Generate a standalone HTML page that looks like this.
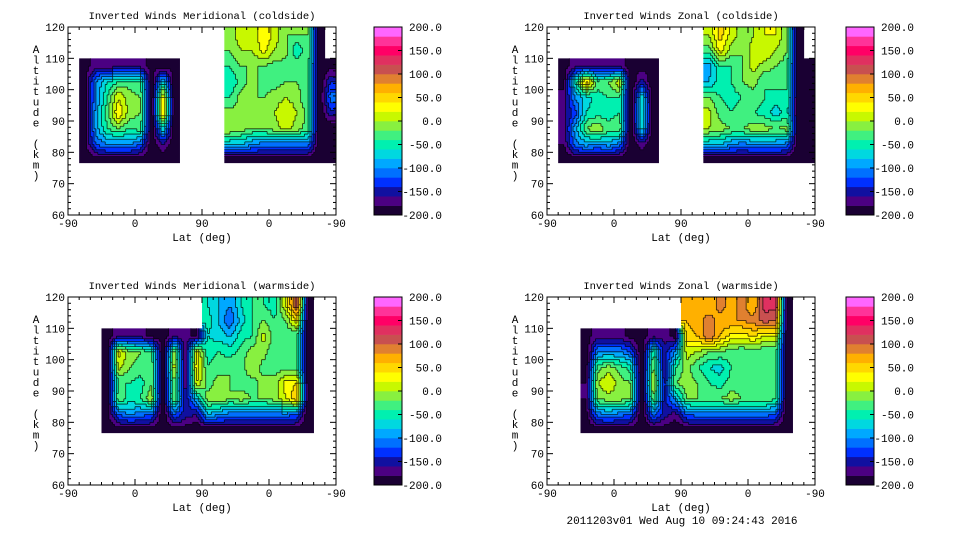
<!DOCTYPE html>
<html><head><meta charset="utf-8"><style>
html,body{margin:0;padding:0;background:#fff;}
svg{display:block;font-family:"Liberation Mono","DejaVu Sans Mono",monospace;}
</style></head><body>
<svg id="chart" width="960" height="540" viewBox="0 0 960 540" xmlns="http://www.w3.org/2000/svg">
<rect width="960" height="540" fill="#fff"/>
</svg>
<script>
// colour bands from -200 to 200, 20 units each
const levelColors = ["#1a0033","#4b0082","#1010a0","#0030ff","#0070ff","#00a8ff","#00d8e0","#00f0b0","#40f080","#88f040","#c8f800","#ffff00","#ffd800","#ffb000","#e08030","#c85050","#e03060","#ff0066","#ff3399","#ff66ff"];
const cbarLabels = ["200.0","150.0","100.0","50.0","0.0","-50.0","-100.0","-150.0","-200.0"];
const cbarValues = [200,150,100,50,0,-50,-100,-150,-200];
const xTickLabels = ["-90","0","90","0","-90"];
const xTickUnits = [0,90,180,270,360];
const yTickValues = [60,70,80,90,100,110,120];
const rowAltTops = [120,115,110,105,100,95,90,85,80]; // each row spans 5 km down
const colWidthUnits = 15;
const n = null;
// grids: rows top->bottom, 24 columns of 15 axis units (0..360)
const gridMeridCold = [
[n,n,n,n,n,n,n,n,n,n,n,n,n,n,-20,20,0,40,10,-20,-20,-20,-200,n],
[n,n,n,n,n,n,n,n,n,n,n,n,n,n,-20,0,0,30,0,-10,-60,-20,-200,n],
[n,-190,-170,-170,-170,-170,-170,-190,-190,-190,n,n,n,n,-40,-20,-20,-20,-30,-30,-20,-30,-200,-190],
[n,-190,-100,-60,-40,-30,-40,-200,-60,-200,n,n,n,n,-60,-30,-10,-30,-30,-20,-20,-30,-200,-140],
[n,-190,-100,-40,20,-10,-20,-200,40,-200,n,n,n,n,-40,-10,-20,-20,-10,0,-10,-40,-200,-110],
[n,-190,-90,-30,40,-10,-20,-200,60,-200,n,n,n,n,-10,-20,-20,-20,0,20,0,-30,-200,-150],
[n,-190,-90,-40,-20,-40,-30,-200,-60,-200,n,n,n,n,0,-10,-20,-20,-10,10,-10,-30,-200,-200],
[n,-190,-120,-100,-100,-100,-120,-200,-160,-200,n,n,n,n,-80,-80,-100,-110,-110,-110,-110,-110,-200,-200],
[n,-200,-190,-190,-190,-190,-190,-200,-200,-200,n,n,n,n,-190,-190,-190,-190,-190,-190,-190,-190,-200,-200]];
const gridZonalCold = [
[n,n,n,n,n,n,n,n,n,n,n,n,n,n,0,50,10,-10,0,20,20,-20,-200,n],
[n,n,n,n,n,n,n,n,n,n,n,n,n,n,-30,30,-10,-20,10,20,0,-20,-200,n],
[n,-190,-170,-170,-170,-170,-170,-190,-190,-190,n,n,n,n,-90,-40,-40,-20,10,-10,-20,-30,-200,-190],
[n,-190,-60,60,-30,-20,20,-200,-150,-200,n,n,n,n,-80,-50,-40,-20,-10,-40,-30,-40,-200,-200],
[n,-170,-100,-70,-50,-40,-40,-200,-60,-200,n,n,n,n,-20,-40,-50,-40,-30,-40,-50,-40,-200,-200],
[n,-170,-130,-60,-50,-50,-40,-200,-50,-200,n,n,n,n,10,-30,-40,-30,-40,-50,-70,-50,-200,-200],
[n,-170,-90,-20,0,-30,-20,-200,-60,-200,n,n,n,n,0,-10,-20,-20,-10,-10,-20,-10,-200,-200],
[n,-180,-110,-90,-100,-90,-110,-200,-170,-200,n,n,n,n,-80,-80,-100,-110,-100,-100,-100,-110,-200,-200],
[n,-200,-190,-190,-190,-190,-190,-200,-200,-200,n,n,n,n,-190,-190,-190,-190,-190,-190,-190,-190,-200,-200]];
const gridMeridWarm = [
[n,n,n,n,n,n,n,n,n,n,n,n,-60,-80,-100,-60,-40,-40,-50,20,120,-200,n,n],
[n,n,n,n,n,n,n,n,n,n,n,n,-50,-80,-120,-70,-40,-20,-40,-20,40,-200,n,n],
[n,n,n,-190,-170,-170,-170,-190,-190,-170,-170,-190,-60,-70,-80,-50,-40,10,-30,-40,-40,-200,n,n],
[n,n,n,-200,30,-10,-20,-40,-200,0,-190,30,-50,-40,-50,-30,-10,-10,-40,-30,-40,-200,n,n],
[n,n,n,-200,10,-20,-30,-20,-200,20,-190,40,-40,-30,-20,-30,0,-30,-30,-30,-40,-200,n,n],
[n,n,n,-200,-40,-40,-50,-20,-200,-20,-180,20,-30,-10,-20,-30,-30,-10,-10,30,40,-200,n,n],
[n,n,n,-200,-20,-50,-40,0,-200,-10,-160,-80,-10,0,-20,-10,-20,-20,-10,20,60,-200,n,n],
[n,n,n,-190,-120,-100,-110,-120,-200,-120,-150,-160,-80,-100,-110,-110,-110,-110,-110,-110,-120,-200,n,n],
[n,n,n,-200,-190,-190,-190,-190,-200,-190,-190,-200,-190,-190,-190,-190,-190,-190,-190,-190,-190,-200,n,n]];
const gridZonalWarm = [
[n,n,n,n,n,n,n,n,n,n,n,n,60,80,60,90,70,90,60,130,130,-200,n,n],
[n,n,n,n,n,n,n,n,n,n,n,n,60,70,90,70,80,80,90,110,100,-200,n,n],
[n,n,n,-190,-170,-170,-170,-190,-190,-170,-170,-190,50,60,100,60,30,30,40,20,20,-200,n,n],
[n,n,n,-200,-100,-100,-100,-120,-200,-40,-150,-100,10,0,-20,-20,-30,-40,-30,-40,-40,-200,n,n],
[n,n,n,-190,-30,-10,-30,-50,-200,-10,-160,-40,-10,-40,-60,-70,-40,-40,-40,-30,-40,-200,n,n],
[n,n,n,-180,0,20,-10,-20,-200,10,-150,-20,-10,-20,-40,-50,-30,-30,-30,-20,-30,-200,n,n],
[n,n,n,-180,-20,-10,-10,-20,-200,-20,-150,-90,-20,-20,-20,-20,-10,-20,-20,-20,-40,-200,n,n],
[n,n,n,-190,-110,-100,-110,-120,-200,-110,-150,-170,-120,-110,-110,-110,-110,-110,-110,-110,-120,-200,n,n],
[n,n,n,-200,-190,-190,-190,-190,-200,-190,-190,-200,-190,-190,-190,-190,-190,-190,-190,-190,-190,-200,n,n]];

const panels = [
 {name:"meridional-coldside",title:"Inverted Winds Meridional (coldside)",ox:68,oy:27,cbx:374,grid:gridMeridCold},
 {name:"zonal-coldside",title:"Inverted Winds Zonal (coldside)",ox:547,oy:27,cbx:846,grid:gridZonalCold},
 {name:"meridional-warmside",title:"Inverted Winds Meridional (warmside)",ox:68,oy:297,cbx:374,grid:gridMeridWarm},
 {name:"zonal-warmside",title:"Inverted Winds Zonal (warmside)",ox:547,oy:297,cbx:846,grid:gridZonalWarm}
];
const W=268,H=188,CBW=28,SUB=6;
const NS="http://www.w3.org/2000/svg";
const svg=document.getElementById('chart');
function mk(tag,attrs,parent,text){const e=document.createElementNS(NS,tag);for(const k in attrs)e.setAttribute(k,attrs[k]);if(text!==undefined)e.textContent=text;parent.appendChild(e);return e;}
function bandOf(v){let i=Math.floor((v+200)/20);if(i<0)i=0;if(i>19)i=19;return i;}
function sample(grid,r,c){
 const r0=Math.floor(r),c0=Math.floor(c),fr=r-r0,fc=c-c0;
 let s=0,w=0;
 [[r0,c0,(1-fr)*(1-fc)],[r0,c0+1,(1-fr)*fc],[r0+1,c0,fr*(1-fc)],[r0+1,c0+1,fr*fc]].forEach(([a,b,wt])=>{
  if(a<0||b<0||a>=grid.length||b>=grid[0].length)return;
  const v=grid[a][b]; if(v===null)return; s+=v*wt; w+=wt;
 });
 return w>0?s/w:null;
}

panels.forEach(p=>{
 const g=mk('g',{},svg);
 
 
 const xs=u=>p.ox+u*W/360;
 const ys=a=>p.oy+H-(a-60)*H/60;
 const nR=p.grid.length*SUB, nC=p.grid[0].length*SUB;
 // fine band grid
 const band=[];
 for(let R=0;R<nR;R++){band.push([]);for(let C=0;C<nC;C++){
  const ri=Math.floor(R/SUB),ci=Math.floor(C/SUB);
  const v=p.grid[ri][ci];
  if(v===null){band[R].push(null);continue;}
  const val=sample(p.grid,ri-0.5+((R%SUB)+0.5)/SUB,ci-0.5+((C%SUB)+0.5)/SUB);
  band[R].push(bandOf(val===null?v:val));
 }}
 const rowY=R=>{const ri=Math.floor(R/SUB),top=rowAltTops[ri],bot=(ri===p.grid.length-1)?76:top-5;return ys(top-(top-bot)*(R%SUB)/SUB);};
 const colX=C=>xs(C*colWidthUnits/SUB);
 const paths=levelColors.map(()=>'');
 let lines='';
 for(let R=0;R<nR;R++)for(let C=0;C<nC;C++){
  const b=band[R][C]; if(b===null)continue;
  const x0=colX(C),x1=colX(C+1),y0=rowY(R),y1=rowY(R+1);
  paths[b]+=`M${x0.toFixed(2)} ${y0.toFixed(2)}H${(x1+0.3).toFixed(2)}V${(y1+0.3).toFixed(2)}H${x0.toFixed(2)}Z`;
  if(C+1<nC&&band[R][C+1]!==null&&band[R][C+1]!==b)lines+=`M${x1.toFixed(2)} ${y0.toFixed(2)}V${y1.toFixed(2)}`;
  if(R+1<nR&&band[R+1][C]!==null&&band[R+1][C]!==b)lines+=`M${x0.toFixed(2)} ${y1.toFixed(2)}H${x1.toFixed(2)}`;
 }
 const field=mk('g',{},g);
 
 
 paths.forEach((d,i)=>{ if(!d)return;
  const e=mk('path',{d:d,fill:levelColors[i]},field);
  
  
 });
 const cl=mk('path',{d:lines,fill:'none',stroke:'#000','stroke-width':0.8,'stroke-opacity':0.8},field);
 
 

 const fr=mk('rect',{x:p.ox,y:p.oy,width:W,height:H,fill:'none',stroke:'#000','stroke-width':1},g);
 
 
 for(let a=60;a<=120;a+=2){
  const y=ys(a), len=(a%10===0)?6:3;
  mk('line',{x1:p.ox,x2:p.ox+len,y1:y,y2:y,stroke:'#000','stroke-width':1},g);
  mk('line',{x1:p.ox+W,x2:p.ox+W-len,y1:y,y2:y,stroke:'#000','stroke-width':1},g);
 }
 yTickValues.forEach(a=>{
  const t=mk('text',{x:p.ox-3,y:ys(a)+4,'font-size':11,'text-anchor':'end',fill:'#000'},g,String(a));
  
  
 });
 for(let u=0;u<=360;u+=15){
  const x=xs(u), len=(u%90===0)?6:3;
  mk('line',{x1:x,x2:x,y1:p.oy+H,y2:p.oy+H-len,stroke:'#000','stroke-width':1},g);
  mk('line',{x1:x,x2:x,y1:p.oy,y2:p.oy+len,stroke:'#000','stroke-width':1},g);
 }
 xTickLabels.forEach((l,i)=>{
  const t=mk('text',{x:xs(xTickUnits[i]),y:p.oy+H+12,'font-size':11,'text-anchor':'middle',fill:'#000'},g,l);
  
  
 });
 const xt=mk('text',{x:p.ox+W/2,y:p.oy+H+26,'font-size':11,'text-anchor':'middle',fill:'#000'},g,'Lat (deg)');
 
 
 const yt=mk('text',{x:p.ox-32,y:p.oy+26,'font-size':11,'text-anchor':'middle',fill:'#000'},g);
 
 
 'Altitude (km)'.split('').forEach((c,i)=>{mk('tspan',{x:p.ox-32,y:p.oy+26+i*10.5},yt,c===' '?'\u00a0':c);});
 const tt=mk('text',{x:p.ox+W/2,y:p.oy-8,'font-size':10.5,'text-anchor':'middle',fill:'#000'},g,p.title);
 
 
 const cb=mk('g',{},g);
 
 
 const cy=v=>p.oy+H-(v+200)*H/400;
 levelColors.forEach((c,i)=>{
  const v0=-200+i*20;
  mk('rect',{x:p.cbx,y:cy(v0+20),width:CBW,height:(H/20+0.3).toFixed(2),fill:c},cb);
 });
 mk('rect',{x:p.cbx,y:p.oy,width:CBW,height:H,fill:'none',stroke:'#000','stroke-width':1},cb);
 cbarValues.forEach((v,i)=>{
  mk('line',{x1:p.cbx+CBW-4,x2:p.cbx+CBW,y1:cy(v),y2:cy(v),stroke:'#000'},cb);
  const t=mk('text',{x:p.cbx+68,y:cy(v)+4,'font-size':11,'text-anchor':'end',fill:'#000'},cb,cbarLabels[i]);
  
  
 });
});
const ts=mk('text',{x:682,y:524,'font-size':11,'text-anchor':'middle',fill:'#000'},svg,'2011203v01 Wed Aug 10 09:24:43 2016');


</script>
</body></html>
